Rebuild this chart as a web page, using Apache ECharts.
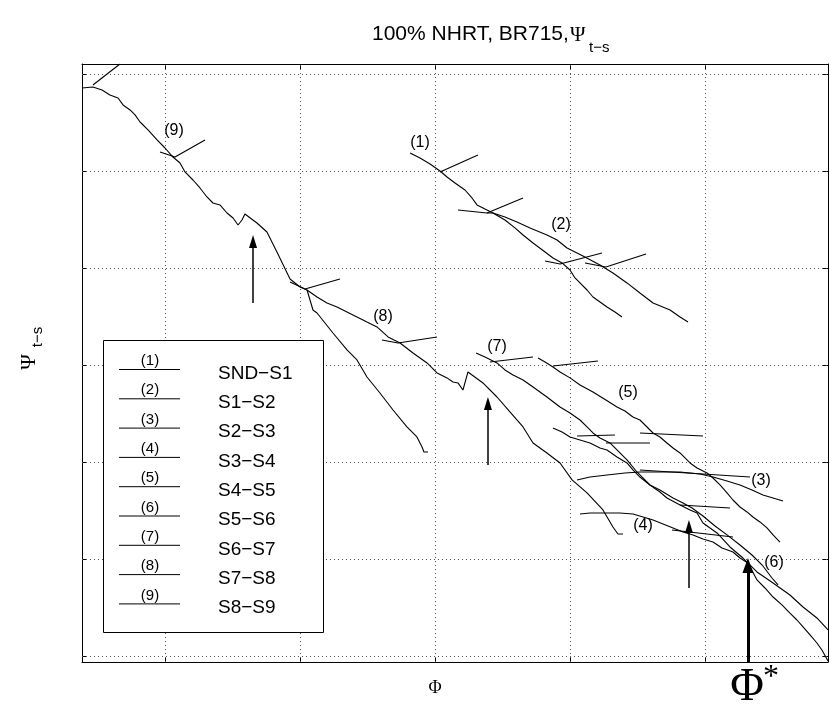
<!DOCTYPE html>
<html><head><meta charset="utf-8">
<script src="https://cdn.jsdelivr.net/npm/echarts@6/dist/echarts.min.js"></script>
<style>html,body{margin:0;padding:0;background:#fff}#c{width:830px;height:713px}</style>
</head><body><div id="c"></div>
<script>
// ---- axes / grid values (grid units) ----
const xRange = [0.380, 5.906];
const yRange = [-0.059, 6.106];
const xGrid = [1, 2, 3, 4, 5];
const yGrid = [0, 1, 2, 3, 4, 5, 6];

// ---- curves [Phi, Psi] ----
const curve98 = [[0.380,5.859],[0.461,5.869],[0.528,5.838],[0.587,5.787],[0.647,5.756],[0.684,5.684],[0.736,5.632],[0.773,5.581],[0.810,5.508],[0.869,5.426],[0.936,5.323],[0.995,5.240],[1.054,5.147],[1.106,5.085],[1.143,4.993],[1.202,4.910],[1.254,4.828],[1.306,4.735],[1.350,4.673],[1.402,4.653],[1.454,4.570],[1.499,4.518],[1.536,4.446],[1.565,4.498],[1.587,4.560],[1.676,4.467],[1.750,4.374],[1.824,4.168],[1.921,3.890],[1.995,3.807],[2.047,3.776],[2.121,3.704],[2.195,3.642],[2.269,3.601],[2.343,3.549],[2.417,3.498],[2.491,3.446],[2.565,3.395],[2.647,3.292],[2.736,3.230],[2.832,3.127],[2.936,3.024],[3.010,2.921],[3.084,2.870],[3.128,2.828],[3.165,2.818],[3.202,2.745],[3.239,2.931],[3.350,2.818],[3.454,2.673],[3.550,2.519],[3.647,2.364],[3.721,2.199],[3.824,2.096],[3.921,1.993],[4.010,1.818],[4.121,1.684],[4.239,1.509],[4.313,1.333],[4.350,1.261],[4.387,1.261]];
const curve8b = [[2.047,3.776],[2.091,3.570],[2.121,3.539],[2.180,3.436],[2.239,3.333],[2.343,3.158],[2.417,3.055],[2.491,2.879],[2.587,2.714],[2.684,2.539],[2.787,2.364],[2.861,2.261],[2.899,2.158],[2.913,2.106],[2.943,2.106]];
const curve1 = [[2.810,5.189],[2.884,5.137],[2.958,5.075],[3.032,5.003],[3.084,4.941],[3.143,4.879],[3.217,4.807],[3.269,4.725],[3.306,4.653],[3.365,4.611],[3.424,4.570],[3.513,4.498],[3.587,4.416],[3.647,4.343],[3.721,4.261],[3.810,4.168],[3.869,4.106],[3.936,4.055],[3.995,3.982],[4.032,3.900],[4.069,3.849],[4.121,3.776],[4.165,3.704],[4.217,3.653],[4.269,3.601],[4.328,3.549],[4.380,3.498]];
const curve2 = [[3.165,4.601],[3.380,4.570],[3.424,4.570],[3.513,4.529],[3.602,4.477],[3.699,4.416],[3.824,4.343],[3.899,4.292],[3.973,4.209],[4.091,4.127],[4.217,4.034],[4.313,3.951],[4.417,3.849],[4.513,3.745],[4.610,3.642],[4.736,3.570],[4.810,3.498],[4.869,3.446]];
const curve7 = [[3.299,3.127],[3.365,3.086],[3.454,3.024],[3.513,2.952],[3.573,2.900],[3.647,2.848],[3.721,2.776],[3.824,2.673],[3.921,2.570],[3.995,2.508],[4.069,2.436],[4.121,2.364],[4.165,2.302],[4.217,2.251],[4.291,2.199],[4.365,2.096],[4.417,2.024],[4.491,1.900],[4.550,1.818],[4.587,1.766],[4.661,1.694],[4.713,1.632],[4.810,1.560],[4.884,1.509],[4.936,1.477],[4.980,1.374],[5.084,1.271],[5.180,1.127],[5.276,1.013],[5.380,0.869],[5.499,0.756],[5.624,0.632],[5.721,0.508],[5.824,0.395],[5.906,0.271]];
const curve5 = [[3.758,3.075],[3.810,3.034],[3.869,2.982],[3.921,2.931],[3.995,2.870],[4.069,2.797],[4.165,2.725],[4.261,2.642],[4.343,2.570],[4.402,2.529],[4.461,2.467],[4.513,2.436],[4.610,2.302],[4.661,2.261],[4.713,2.199],[4.758,2.147],[4.810,2.096],[4.884,1.993],[4.936,1.941],[5.010,1.890],[5.054,1.838],[5.106,1.766],[5.158,1.684],[5.202,1.611],[5.254,1.539],[5.306,1.488],[5.350,1.436],[5.402,1.385],[5.454,1.323],[5.499,1.251],[5.550,1.178]];
const curve6 = [[3.869,2.354],[3.936,2.312],[3.995,2.261],[4.069,2.230],[4.143,2.199],[4.217,2.147],[4.269,2.127],[4.343,2.055],[4.417,1.993],[4.461,1.921],[4.513,1.848],[4.587,1.766],[4.661,1.714],[4.758,1.632],[4.832,1.580],[4.899,1.529],[4.980,1.446],[5.069,1.343],[5.158,1.251],[5.254,1.147],[5.343,1.044],[5.424,0.931],[5.491,0.807],[5.536,0.735]];
const curve4 = [[4.069,1.467],[4.143,1.477],[4.217,1.477],[4.365,1.477],[4.461,1.467],[4.536,1.436],[4.610,1.405],[4.684,1.364],[4.758,1.323],[4.832,1.281],[4.906,1.251],[4.980,1.209],[5.054,1.178],[5.121,1.116],[5.202,1.075],[5.254,1.013],[5.313,0.962],[5.380,0.787],[5.439,0.704],[5.499,0.611],[5.565,0.529],[5.624,0.446],[5.676,0.374],[5.721,0.302],[5.773,0.220],[5.824,0.137],[5.861,0.065],[5.906,-0.048]];
const curve3 = [[4.047,1.818],[4.143,1.848],[4.269,1.869],[4.402,1.890],[4.513,1.900],[4.661,1.900],[4.810,1.900],[4.958,1.879],[5.054,1.848],[5.158,1.807],[5.254,1.766],[5.343,1.714],[5.424,1.663],[5.499,1.632],[5.573,1.601]];

// ---- straight tangent segments ----
const tangents = [
  [[0.461,5.890],[0.661,6.106]],
  [[0.958,5.199],[1.069,5.147],[1.291,5.323]],
  [[1.921,3.859],[2.032,3.787],[2.291,3.890]],
  [[2.602,3.261],[2.721,3.230],[3.010,3.292]],
  [[3.032,4.993],[3.313,5.168]],
  [[3.380,4.570],[3.647,4.725]],
  [[3.810,4.075],[3.921,4.044],[4.232,4.158]],
  [[4.106,4.055],[4.261,4.013],[4.558,4.148]],
  [[3.402,3.034],[3.721,3.086]],
  [[3.869,2.993],[4.202,3.044]],
  [[4.513,2.302],[4.980,2.271]],
  [[4.047,2.271],[4.328,2.281]],
  [[4.261,2.199],[4.587,2.199]],
  [[4.513,1.921],[5.328,1.848]],
  [[4.810,1.560],[5.180,1.529]],
  [[4.750,1.302],[5.202,1.230]]
];

// ---- arrows: [x, yStart, yHeadCentre] ----
const arrowsThin = [[1.647,3.642,4.276],[3.387,1.972,2.606],[4.876,0.704,1.338]];
const arrowThick = [[5.313,-0.059,0.936]];

// ---- curve labels ----
const curveLabels = ['(9)','(1)','(2)','(8)','(7)','(5)','(3)','(4)','(6)'];
const curveLabelPos = [[1.061,5.416],[2.884,5.292],[3.928,4.446],[2.610,3.498],[3.454,3.189],[4.424,2.714],[5.410,1.807],[4.536,1.343],[5.506,0.962]];

// ---- legend ----
const legendCodes = ['(1)','(2)','(3)','(4)','(5)','(6)','(7)','(8)','(9)'];
const legendNames = ['SND\u2212S1','S1\u2212S2','S2\u2212S3','S3\u2212S4','S4\u2212S5','S5\u2212S6','S6\u2212S7','S7\u2212S8','S8\u2212S9'];

const SANS = '"Liberation Sans", Arial, Helvetica, sans-serif';
const SERIF = '"Liberation Serif", "Times New Roman", serif';

const lineBase = (data) => ({
  type:'line', data, symbol:'none', showSymbol:false, clip:true, silent:true,
  lineStyle:{color:'#000', width:1.1}, z:5
});

const series = [];
series.push({
  type:'line', data:[[xRange[0],yRange[0]]], symbol:'none', silent:true, z:1,
  lineStyle:{opacity:0},
  markLine:{silent:true, symbol:'none', label:{show:false}, animation:false,
    lineStyle:{type:[1,3], color:'#555', width:1},
    data:[...xGrid.map(v=>({xAxis:v})), ...yGrid.map(v=>({yAxis:v}))]}
});
[curve98, curve8b, curve1, curve2, curve7, curve5, curve6, curve4, curve3].forEach(c=>series.push(lineBase(c)));
tangents.forEach(t=>series.push(lineBase(t)));
series.push({
  type:'line', data:[[xRange[0],yRange[0]]], symbol:'none', silent:true, z:6, lineStyle:{opacity:0},
  markLine:{silent:true, symbol:['none','triangle'], symbolSize:[8,13], label:{show:false}, animation:false,
    lineStyle:{type:'solid', color:'#000', width:1.5},
    data: arrowsThin.map(a=>[{coord:[a[0],a[1]]},{coord:[a[0],a[2]]}])}
});
series.push({
  type:'line', data:[[xRange[0],yRange[0]]], symbol:'none', silent:true, z:6, lineStyle:{opacity:0},
  markLine:{silent:true, symbol:['none','triangle'], symbolSize:[11,15], label:{show:false}, animation:false,
    lineStyle:{type:'solid', color:'#000', width:3},
    data: arrowThick.map(a=>[{coord:[a[0],a[1]]},{coord:[a[0],a[2]]}])}
});
series.push({
  type:'scatter', symbolSize:0, itemStyle:{color:'rgba(0,0,0,0)', opacity:1}, silent:true, z:7,
  data: curveLabelPos.map((p,i)=>({value:p, name:curveLabels[i]})),
  label:{show:true, position:'inside', formatter:'{b}', color:'#000', opacity:1, fontSize:16, fontFamily:SANS}
});

const graphics = [];
// title
graphics.push({type:'text', x:372, y:34, style:{text:'100% NHRT, BR715,', font:'21px '+SANS, fill:'#000', textVerticalAlign:'middle', verticalAlign:'middle'}});
graphics.push({type:'text', x:570, y:35, style:{text:'\u03A8', font:'21px '+SERIF, fill:'#000', textVerticalAlign:'middle', verticalAlign:'middle'}});
graphics.push({type:'text', x:589, y:48, style:{text:'t\u2212s', font:'15px '+SANS, fill:'#000', textVerticalAlign:'middle', verticalAlign:'middle'}});
// y label
graphics.push({type:'text', x:29, y:362, rotation:Math.PI/2, style:{text:'\u03A8', font:'21px '+SERIF, fill:'#000', textAlign:'center', align:'center', textVerticalAlign:'middle', verticalAlign:'middle'}});
graphics.push({type:'text', x:38, y:337, rotation:Math.PI/2, style:{text:'t\u2212s', font:'15px '+SANS, fill:'#000', textAlign:'center', align:'center', textVerticalAlign:'middle', verticalAlign:'middle'}});
// x label
graphics.push({type:'text', x:435, y:688, style:{text:'\u03A6', font:'18px '+SERIF, fill:'#000', textAlign:'center', align:'center', textVerticalAlign:'middle', verticalAlign:'middle'}});
// Phi*
graphics.push({type:'text', x:747, y:688, style:{text:'\u03A6', font:'46px '+SERIF, fill:'#000', textAlign:'center', align:'center', textVerticalAlign:'middle', verticalAlign:'middle'}});
graphics.push({type:'text', x:771, y:678, style:{text:'*', font:'32px '+SERIF, fill:'#000', textAlign:'center', align:'center', textVerticalAlign:'middle', verticalAlign:'middle'}});
// legend box
graphics.push({type:'rect', shape:{x:103.5, y:340.5, width:220, height:292}, style:{fill:'#fff', stroke:'#000', lineWidth:1}, z:50});
legendCodes.forEach((c,i)=>{
  const ly = 369.5 + 29.3*i;
  graphics.push({type:'line', shape:{x1:119, y1:ly, x2:180, y2:ly}, style:{stroke:'#000', lineWidth:1}, z:51});
  graphics.push({type:'text', x:150, y:ly-1, style:{text:c, font:'15px '+SANS, fill:'#000', textAlign:'center', align:'center', textVerticalAlign:'bottom', verticalAlign:'bottom'}, z:51});
  graphics.push({type:'text', x:218, y:ly+4, style:{text:legendNames[i], font:'19px '+SANS, fill:'#000', textVerticalAlign:'middle', verticalAlign:'middle'}, z:51});
});

const axCommon = {
  type:'value', axisLine:{show:true, onZero:false, lineStyle:{color:'#000', width:1}},
  axisLabel:{show:false}, splitLine:{show:false}
};
const chart = echarts.init(document.getElementById('c'), null, {renderer:'canvas'});
chart.setOption({
  animation:false,
  backgroundColor:'#fff',
  grid:{left:82, top:64, right:2, bottom:51, containLabel:false},
  xAxis:[
    Object.assign({}, axCommon, {min:xRange[0], max:xRange[1], position:'bottom', axisTick:{show:true, inside:true, length:5, customValues:xGrid, lineStyle:{color:'#000'}}}),
    Object.assign({}, axCommon, {min:xRange[0], max:xRange[1], position:'top', axisTick:{show:true, inside:true, length:5, customValues:xGrid, lineStyle:{color:'#000'}}})
  ],
  yAxis:[
    Object.assign({}, axCommon, {min:yRange[0], max:yRange[1], position:'left', axisTick:{show:true, inside:true, length:5, customValues:yGrid, lineStyle:{color:'#000'}}}),
    Object.assign({}, axCommon, {min:yRange[0], max:yRange[1], position:'right', axisTick:{show:true, inside:true, length:5, customValues:yGrid, lineStyle:{color:'#000'}}})
  ],
  series,
  graphic:{elements:graphics}
});
</script></body></html>
